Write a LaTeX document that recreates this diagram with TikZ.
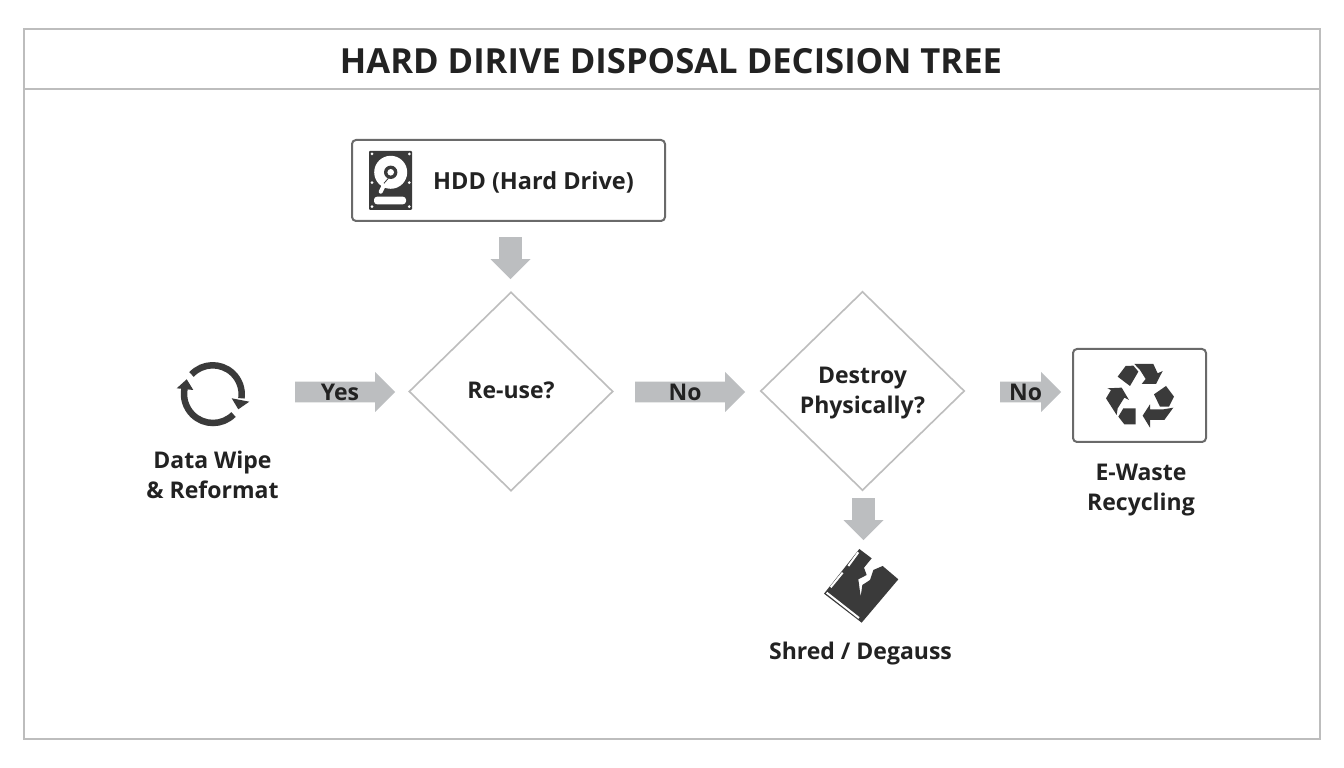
\documentclass[tikz,border=0pt]{standalone}
\usepackage{fontspec}
\setmainfont{Open Sans}
\usetikzlibrary{shapes.geometric, shapes.arrows, positioning}
\definecolor{Frame}{HTML}{BDBDBD}
\definecolor{BoxEdge}{HTML}{6A6A6A}
\definecolor{Arrow}{HTML}{BCBEC0}
\definecolor{Icon}{HTML}{3A3A3A}
\definecolor{Ink}{HTML}{222222}
\tikzset{
  txt/.style={text=Ink, align=center, inner sep=0pt, font=\fontsize{23}{30}\selectfont\bfseries},
  decision/.style={shape=diamond, draw=Frame, line width=1.6pt, minimum width=204pt, minimum height=199pt, inner sep=0pt},
  blockarrow/.style={shape=single arrow, fill=Arrow, single arrow head extend=8pt, single arrow head indent=0pt, minimum width=40pt, inner sep=0pt, txt, anchor=tail},
  downarrow/.style={blockarrow, shape border rotate=270, minimum height=42pt, text width=21pt},
  iconbox/.style={draw=BoxEdge, line width=2pt, rounded corners=4pt}
}
\begin{document}
\begin{tikzpicture}[x=1pt, y=1pt]
  \useasboundingbox (0,0) rectangle (1344,768);
  \fill[white] (0,0) rectangle (1344,768);
  % frame and title
  \draw[Frame, line width=1.6pt] (24,29) rectangle (1320,739);
  \draw[Frame, line width=1.6pt] (24,679) -- (1320,679);
  \node[txt, font=\fontsize{34.6}{40}\selectfont\bfseries] (title) at (671,707) {HARD DIRIVE DISPOSAL DECISION TREE};

  % source box with the drive icon
  \node[iconbox, minimum width=313pt, minimum height=81pt] (hdd) at (508.5,587.5) {};
  \node[txt, font=\fontsize{23.5}{30}\selectfont\bfseries] (hddlabel) at (533.5,586) {HDD (Hard Drive)};
  \fill[Icon, rounded corners=1pt] (369,558) rectangle (412,617);
  \fill[white] (390.7,595.7) circle (16.5pt);
  \fill[Icon] (390.7,595.7) circle (6.7pt);
  \fill[white] (390.7,595.7) circle (3.3pt);
  \draw[white, line width=4pt, line cap=round] (380.7,576.3) -- (385,584.7);
  \draw[Icon, line width=0.8pt] (384,584.7) -- (388.3,589.7);
  \fill[white, rounded corners=3pt] (374,563.7) rectangle (406,571.3);
  \foreach \px/\py in {372/614, 409.3/614, 372/561.3, 409.3/561.3, 372/585.3, 409.3/585.3}
    \fill[white] (\px,\py) circle (1.5pt);

  % decisions
  \node[decision] (reuse) at (511,376.5) {};
  \node[decision] (destroy) at (862.5,377) {};
  \node[txt] (reusetext) at (511,377.5) {Re-use?};
  \node[txt] (destroytext) at (862.5,375) {Destroy\\Physically?};

  % arrows with labels
  \node[downarrow] (hddarrow) at (510.5,531) {};
  \node[downarrow] (destroyarrow) at (863.5,270) {};
  \node[blockarrow, minimum height=100pt] (yesarrow) at (295,376) {Yes};
  \node[blockarrow, minimum height=110pt] (noarrow) at (635,376) {No};
  \node[blockarrow, minimum height=61pt] (norecycle) at (1000,376) {No};

  % data wipe icon
  \draw[Icon, line width=6.5pt] (191.5,393.5) arc[start angle=137, end angle=-8, radius=29pt];
  \draw[Icon, line width=6.5pt] (233.5,353.5) arc[start angle=-45, end angle=-192, radius=29pt];
  \fill[Icon] (231.7,369.7) -- (249.3,366.3) -- (238.3,358.7) -- cycle;
  \fill[Icon] (176.7,379.7) -- (193.3,378) -- (186.7,388.7) -- cycle;
  \node[txt] (wipe) at (212.5,293) {Data Wipe\\\& Reformat};

  % recycling box
  \node[iconbox, minimum width=133pt, minimum height=93pt] (recycle) at (1139.5,372.5) {};
  \begin{scope}[shift={(1095,413)}, x=0.3333pt, y=-0.3333pt]
    \fill[Icon] (68,65) -- (92,33) -- (115,32) -- (130,50) -- (105,93) -- cycle;
    \fill[Icon] (118,27) -- (175,27) -- (188,55) -- (203,48) -- (183,87) -- (140,87) -- (152,72) -- (135,45) -- cycle;
    \fill[Icon] (213,93) -- (237,125) -- (222,155) -- (195,155) -- (177,118) -- cycle;
    \fill[Icon] (235,158) -- (208,195) -- (165,195) -- (165,218) -- (143,182) -- (165,148) -- (165,163) -- (205,163) -- cycle;
    \fill[Icon] (85,160) -- (122,160) -- (122,208) -- (88,208) -- (70,185) -- cycle;
    \fill[Icon] (65,180) -- (33,130) -- (48,105) -- (37,100) -- (80,98) -- (102,135) -- (88,128) -- (68,160) -- cycle;
  \end{scope}
  \node[txt] (ewaste) at (1141,278) {E-Waste\\Recycling};

  % shredded drive icon
  \begin{scope}[shift={(815,223)}, x=0.3333pt, y=-0.3333pt]
    \fill[Icon] (133,12) -- (170,40) -- (147,68) -- (155,90) -- (130,103) -- (137,155) -- (142,120)
      -- (165,105) -- (175,75) -- (203,63) -- (250,103) -- (140,233) -- (27,146) -- cycle;
    \draw[white, line width=2pt] (47,127) -- (83,83);
    \draw[white, line width=2pt] (100,63) -- (130,22);
    \draw[white, line width=2pt] (35,143) -- (132,219);
  \end{scope}
  \node[txt] (shred) at (860.5,114) {Shred / Degauss};
\end{tikzpicture}
\end{document}
